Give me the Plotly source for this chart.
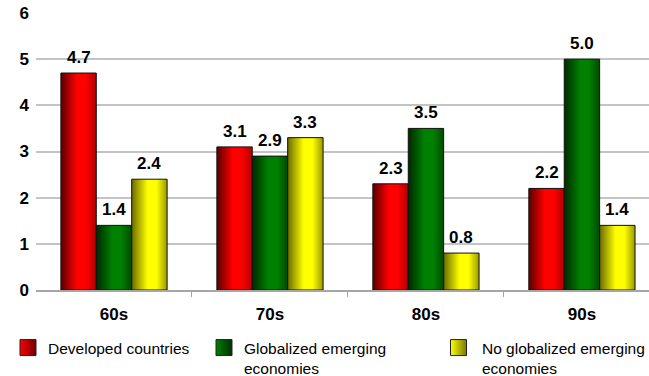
import plotly.graph_objects as go

# Decades on the category axis
decades = ["60s", "70s", "80s", "90s"]

# Values per group, one per decade
developed = [4.7, 3.1, 2.3, 2.2]
globalized = [1.4, 2.9, 3.5, 5.0]
non_globalized = [2.4, 3.3, 0.8, 1.4]

series_names = [
    "Developed countries",
    "Globalized emerging<br>economies",
    "No globalized emerging<br>economies",
]

y_ticks = [0, 1, 2, 3, 4, 5, 6]

# Shading for each group: dark edge -> bright body -> darker right edge
shades = [
    [[0, "#5a0000"], [0.45, "#ff0000"], [0.7, "#ff0000"], [1, "#b00000"]],
    [[0, "#002800"], [0.45, "#008000"], [0.7, "#008000"], [1, "#004a00"]],
    [[0, "#6a6a00"], [0.45, "#ffff00"], [0.7, "#ffff00"], [1, "#9a9a00"]],
]
solid = ["#ff0000", "#008000", "#ffff00"]
edge = ["#700000", "#003000", "#7a7a00"]

bar_w = 0.227
offsets = [-bar_w, 0.0, bar_w]
legend_ids = ["legend", "legend2", "legend3"]

FONT = "Liberation Sans, Arial, sans-serif"

fig = go.Figure()

all_series = [developed, globalized, non_globalized]
for s, values in enumerate(all_series):
    for i, v in enumerate(values):
        x0 = i + offsets[s] - bar_w / 2
        x1 = x0 + bar_w
        fig.add_trace(go.Scatter(
            x=[x0, x1, x1, x0, x0],
            y=[0, 0, v, v, 0],
            mode="lines",
            fill="toself",
            fillgradient=dict(type="horizontal", colorscale=shades[s]),
            line=dict(color="#111111", width=1),
            hoverinfo="skip",
            showlegend=False,
        ))
        fig.add_annotation(
            x=i + offsets[s], y=v, text=f"{v:.1f}",
            showarrow=False, yanchor="bottom", yshift=4,
            font=dict(family=FONT, size=17, color="black", weight="bold"),
        )

# Legend swatches, one legend per group so each sits at its own spot
for s in range(3):
    fig.add_trace(go.Scatter(
        x=[None], y=[None], mode="markers", name=series_names[s],
        marker=dict(symbol="square", size=16, color=solid[s],
                    gradient=dict(type="horizontal", color=edge[s]),
                    line=dict(color="#222222", width=1)),
        legend=legend_ids[s],
    ))

legend_font = dict(family=FONT, size=15.5, color="black")
legend_y = 1 - 331 / 376
common_leg = dict(orientation="v", xref="container", yref="container",
                  yanchor="top", xanchor="left", y=legend_y,
                  font=legend_font, bgcolor="rgba(0,0,0,0)",
                  valign="top", itemsizing="trace", tracegroupgap=0)

fig.update_layout(
    width=649, height=376,
    margin=dict(l=36, r=0, t=13, b=86, autoexpand=False),
    paper_bgcolor="white", plot_bgcolor="white",
    font=dict(family=FONT, color="black"),
    legend=dict(x=8 / 649, **common_leg),
    legend2=dict(x=204 / 649, **common_leg),
    legend3=dict(x=435 / 649, itemwidth=37, **common_leg),
    xaxis=dict(
        range=[-0.5, 3.43],
        tickmode="array", tickvals=list(range(len(decades))), ticktext=decades,
        ticks="", showgrid=False, zeroline=False,
        showline=True, linecolor="#a6a6a6", linewidth=2,
        tickfont=dict(size=17, weight="bold"),
        ticklabelstandoff=8,
        minor=dict(tickmode="array", tickvals=[0.5, 1.5, 2.5],
                   ticks="outside", ticklen=5, tickcolor="#a6a6a6", tickwidth=1,
                   showgrid=False),
        fixedrange=True, automargin=False,
    ),
    yaxis=dict(
        range=[0, 6], tickmode="array", tickvals=y_ticks,
        showgrid=True, gridcolor="#c4c4c4", gridwidth=2,
        zeroline=False, showline=False, ticks="",
        tickfont=dict(size=17, weight="bold"),
        ticklabelstandoff=6,
        fixedrange=True, automargin=False,
    ),
)

fig.write_html("out.html", config={"displayModeBar": False})
